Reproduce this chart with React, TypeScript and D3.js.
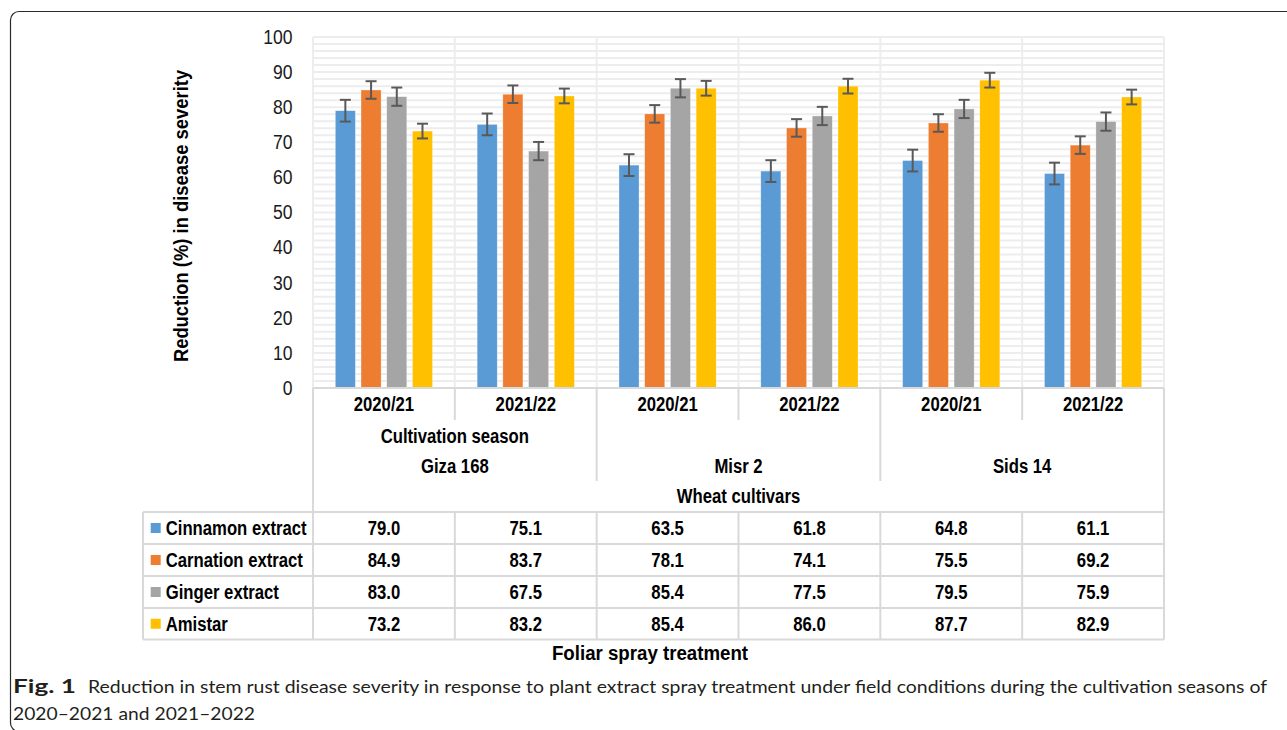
import React from "react";
import * as d3 from "d3";

// chart values
const cultivars = ["Giza 168", "Misr 2", "Sids 14"];
const seasons = ["2020/21", "2021/22"];
const treatments = ["Cinnamon extract", "Carnation extract", "Ginger extract", "Amistar"];
const colors = ["#5B9BD5", "#ED7D31", "#A5A5A5", "#FFC000"];

const cinnamon = [79.0, 75.1, 63.5, 61.8, 64.8, 61.1];
const carnation = [84.9, 83.7, 78.1, 74.1, 75.5, 69.2];
const ginger = [83.0, 67.5, 85.4, 77.5, 79.5, 75.9];
const amistar = [73.2, 83.2, 85.4, 86.0, 87.7, 82.9];

// error bar half-lengths (estimated)
const cinnamonErr = [3.1, 3.1, 3.1, 3.1, 3.1, 3.1];
const carnationErr = [2.5, 2.5, 2.5, 2.5, 2.5, 2.5];
const gingerErr = [2.6, 2.6, 2.6, 2.6, 2.6, 2.6];
const amistarErr = [2.1, 2.1, 2.1, 2.1, 2.1, 2.1];

const yTickValues = [0, 10, 20, 30, 40, 50, 60, 70, 80, 90, 100];

const values = [cinnamon, carnation, ginger, amistar];
const errors = [cinnamonErr, carnationErr, gingerErr, amistarErr];

const W = 1287;
const H = 730;
const left = 313;
const right = 1164;
const top = 37;
const bottom = 388;
const GRID = "#ededed";
const TBL = "#d9d9d9";
const FONT = "'Liberation Sans', Arial, sans-serif";

// condensed text helper (the original font is narrower than Arial)
const T = ({ x, y, size = 20, sx = 0.835, weight = "bold", anchor = "middle", rotate = 0, fill = "#000", children }: any) => (
  <text
    transform={`translate(${x},${y}) rotate(${rotate}) scale(${sx},1)`}
    fontFamily={FONT}
    fontSize={size}
    fontWeight={weight}
    textAnchor={anchor}
    dominantBaseline="central"
    fill={fill}
  >
    {children}
  </text>
);

export default function App() {
  const cats = cultivars.flatMap((c) => seasons.map((s) => `${c}|${s}`));
  const x = d3.scaleBand().domain(cats).range([left, right]).padding(0);
  const y = d3.scaleLinear().domain([0, 100]).range([bottom, top]);
  const step = x.bandwidth();
  const inner = d3
    .scaleBand()
    .domain(treatments)
    .range([(step - 97.2) / 2, (step + 97.2) / 2])
    .paddingInner(0.22);

  const minor = d3.range(0, 101, 2);
  const rows = [512, 544, 576, 608, 639.5];
  const colEdges = [143, ...cats.map((c) => x(c)!), right];

  return (
    <svg width={W} height={H} style={{ position: "absolute", left: 0, top: 0, background: "#fff" }}>
      {/* frame */}
      <path d="M1295,11.5 H19 A8.5 8.5 0 0 0 10.5 20 V723 A8.5 8.5 0 0 0 19 731.5 H1295" fill="none" stroke="#2b2b2b" strokeWidth={1.2} />

      {/* gridlines */}
      {minor.map((v) => (
        <line key={"h" + v} x1={left} x2={right} y1={y(v)} y2={y(v)} stroke={GRID} strokeWidth={2} />
      ))}
      {cats.map((c) => (
        <line key={"v" + c} x1={x(c)!} x2={x(c)!} y1={top} y2={bottom} stroke={GRID} strokeWidth={2} />
      ))}
      <line x1={right} x2={right} y1={top} y2={bottom} stroke={GRID} strokeWidth={2} />

      {/* y ticks */}
      {yTickValues.map((v) => (
        <T key={"t" + v} x={292.5} y={y(v)} size={19.5} sx={0.9} weight="normal" anchor="end" fill="#1a1a1a">
          {v}
        </T>
      ))}
      <T x={181} y={216} size={20} sx={0.92} rotate={-90}>
        Reduction (%) in disease severity
      </T>

      {/* bars */}
      {values.map((arr, si) =>
        arr.map((v, ci) => {
          const bx = x(cats[ci])! + inner(treatments[si])!;
          return (
            <rect
              key={`b${si}-${ci}`}
              x={bx}
              y={y(v)}
              width={inner.bandwidth()}
              height={y(0) - y(v)}
              fill={colors[si]}
              stroke="#fff"
              strokeOpacity={0.5}
              strokeWidth={0.6}
            />
          );
        })
      )}
      {/* error bars */}
      {values.map((arr, si) =>
        arr.map((v, ci) => {
          const cx = x(cats[ci])! + inner(treatments[si])! + inner.bandwidth() / 2;
          const e = errors[si][ci];
          const y1 = y(v + e);
          const y2 = y(v - e);
          return (
            <g key={`e${si}-${ci}`} stroke="#595959" strokeWidth={2}>
              <line x1={cx} x2={cx} y1={y1} y2={y2} />
              <line x1={cx - 5.5} x2={cx + 5.5} y1={y1} y2={y1} />
              <line x1={cx - 5.5} x2={cx + 5.5} y1={y2} y2={y2} />
            </g>
          );
        })
      )}

      {/* category axis table */}
      <g stroke={TBL} strokeWidth={2}>
        <line x1={left} x2={right} y1={bottom} y2={bottom} />
        {cats.map((c, i) => (
          <line key={"cv" + c} x1={x(c)!} x2={x(c)!} y1={bottom} y2={i === 0 ? rows[4] : i % 2 === 0 ? 481 : 420} />
        ))}
        <line x1={right} x2={right} y1={bottom} y2={rows[4]} />
        {rows.map((r) => (
          <line key={"r" + r} x1={143} x2={right} y1={r} y2={r} />
        ))}
        {colEdges.slice(0, 1).map((cx) => (
          <line key={"c0"} x1={cx} x2={cx} y1={rows[0]} y2={rows[4]} />
        ))}
        {colEdges.slice(2, -1).map((cx) => (
          <line key={"ct" + cx} x1={cx} x2={cx} y1={rows[0]} y2={rows[4]} />
        ))}
      </g>

      {cats.map((c, i) => (
        <T key={"s" + c} x={x(c)! + step / 2} y={404}>
          {seasons[i % 2]}
        </T>
      ))}
      <T x={x(cats[0])! + step} y={436}>
        Cultivation season
      </T>
      {cultivars.map((cv, i) => (
        <T key={"cv" + cv} x={x(cats[i * 2])! + step} y={466}>
          {cv}
        </T>
      ))}
      <T x={(left + right) / 2} y={496}>
        Wheat cultivars
      </T>

      {/* data table with legend keys */}
      {treatments.map((t, si) => {
        const cy = (rows[si] + rows[si + 1]) / 2;
        return (
          <g key={"row" + t}>
            <rect x={150.7} y={cy - 5} width={10} height={10} fill={colors[si]} />
            <T x={165.7} y={cy} anchor="start">
              {t}
            </T>
            {values[si].map((v, ci) => (
              <T key={ci} x={x(cats[ci])! + step / 2} y={cy}>
                {v.toFixed(1)}
              </T>
            ))}
          </g>
        );
      })}

      <T x={650} y={653} size={21} sx={0.89}>
        Foliar spray treatment
      </T>

      {/* caption */}
      <g fontFamily="Lato, 'Noto Sans', sans-serif" fontSize={18} fill="#231f20">
        <text x={13} y={693} fontWeight="bold" textLength={63} lengthAdjust="spacingAndGlyphs">
          Fig. 1
        </text>
        <text x={88} y={693} textLength={1179} lengthAdjust="spacingAndGlyphs">
          Reduction in stem rust disease severity in response to plant extract spray treatment under field conditions during the cultivation seasons of
        </text>
        <text x={13} y={720} textLength={242} lengthAdjust="spacingAndGlyphs">
          2020–2021 and 2021–2022
        </text>
      </g>
    </svg>
  );
}
